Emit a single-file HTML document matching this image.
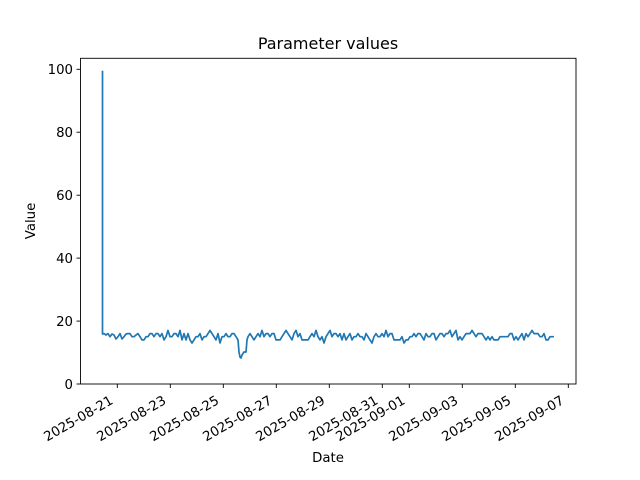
<!DOCTYPE html>
<html><head><meta charset="utf-8"><style>
html,body{margin:0;padding:0;background:#fff}
svg{display:block;font-family:"DejaVu Sans","Liberation Sans",sans-serif}
</style></head><body>
<svg width="640" height="480" viewBox="0 0 640 480">
<rect width="640" height="480" fill="#fff"/>
<text x="328" y="49" font-size="16" text-anchor="middle" fill="#000">Parameter values</text>
<polyline fill="none" stroke="#1f77b4" stroke-width="1.7" stroke-linejoin="round" points="
102.5,70.7 102.5,334 104,333.6 106,335 108,333.6 110,336.7 112,334 114,335 116,339 118,336.7 120,333.6 122,339 124,336.7 126,334 128,333.6 130,333.6 132,336.7 134,336.7 136,335 138,333.6 140,336.7 142,339.9 144,339.9 146,336.7 148,336.7 150,333.6 152,333.6 154,336.7 156,333.6 158,333.6 160,336.7 162,333.6 164,339.9 166,336.7 168,330.4 170,336.7 172,336.7 174,333.6 176,333.6 178,336.7 180,330.4 182,339.9 184,333.6 186,339.9 188,333.6 190,339.9 192,343 194,339.9 196,336.7 198,336.7 200,333.6 202,339.9 204,336.7 206,336.7 208,333.6 210,330.4 212,333.6 214,336.7 216,339.9 218,333.6 220,343 222,336.7 224,336.7 226,333.6 228,336.7 230,336.7 232,333.6 234,333.6 236,336.7 238,339.9 239,352 240,357 241,358 242,355 244,352 246,352 247,339.9 248,336.7 250,333.6 252,336.7 254,339.9 256,336.7 258,333.6 260,336.7 262,330.4 264,336.7 266,333.6 268,333.6 270,336.7 272,333.6 274,333.6 276,339.9 278,339.9 280,339.9 282,336.7 284,333.6 286,330.4 288,333.6 290,336.7 292,339.9 294,333.6 296,330.4 298,336.7 300,333.6 302,339.9 304,339.9 306,339.9 308,339.9 310,336.7 312,333.6 314,336.7 316,330.4 318,336.7 320,339.9 322,336.7 324,343 326,336.7 328,333.6 330,330.4 332,336.7 334,333.6 336,333.6 338,336.7 340,333.6 342,339.9 344,333.6 346,339.9 348,336.7 350,333.6 352,339.9 354,336.7 356,336.7 358,333.6 360,336.7 362,336.7 364,339.9 366,333.6 368,336.7 370,339.9 372,343 374,336.7 376,333.6 378,336.7 380,336.7 382,333.6 384,336.7 386,330.4 388,336.7 390,333.6 392,333.6 394,339.9 396,339.9 398,339.9 400,339.9 402,336.7 404,343 406,339.9 408,339.9 410,336.7 412,336.7 414,333.6 416,336.7 418,333.6 420,333.6 422,336.7 424,339.9 426,333.6 428,336.7 430,336.7 432,333.6 434,333.6 436,339.9 438,336.7 440,333.6 442,333.6 444,336.7 446,333.6 448,333.6 450,330.4 452,336.7 454,333.6 456,330.4 458,339.9 460,336.7 462,339.9 464,336.7 466,333.6 468,333.6 470,333.6 472,330.4 474,333.6 476,336.7 478,333.6 480,333.6 482,333.6 484,336.7 486,339.9 488,336.7 490,339.9 492,336.7 494,339.9 496,339.9 498,339.9 500,336.7 502,336.7 504,336.7 506,336.7 508,336.7 510,333.6 512,333.6 514,339.9 516,336.7 518,339.9 520,336.7 522,333.6 524,339.9 526,333.6 528,336.7 530,333.6 532,330.4 534,333.6 536,333.6 538,333.6 540,336.7 542,336.7 544,333.6 546,339.9 548,339.9 550,336.7 552,336.7 554,336.7"/>
<rect x="80.5" y="58.3" width="495.5" height="325.7" fill="none" stroke="#000" stroke-width="0.9"/>
<g stroke="#000" stroke-width="0.9">
<line x1="76.5" y1="384" x2="80.5" y2="384"/><line x1="76.5" y1="321.1" x2="80.5" y2="321.1"/><line x1="76.5" y1="258.1" x2="80.5" y2="258.1"/><line x1="76.5" y1="195.2" x2="80.5" y2="195.2"/><line x1="76.5" y1="132.2" x2="80.5" y2="132.2"/><line x1="76.5" y1="69.3" x2="80.5" y2="69.3"/>
<line x1="117.3" y1="384" x2="117.3" y2="388"/><line x1="170.3" y1="384" x2="170.3" y2="388"/><line x1="223.3" y1="384" x2="223.3" y2="388"/><line x1="276.3" y1="384" x2="276.3" y2="388"/><line x1="329.3" y1="384" x2="329.3" y2="388"/><line x1="382.3" y1="384" x2="382.3" y2="388"/><line x1="409.3" y1="384" x2="409.3" y2="388"/><line x1="462.3" y1="384" x2="462.3" y2="388"/><line x1="515.3" y1="384" x2="515.3" y2="388"/><line x1="568.3" y1="384" x2="568.3" y2="388"/>
</g>
<g font-size="13.3" text-anchor="end" fill="#000">
<text x="73" y="389">0</text><text x="73" y="326">20</text><text x="73" y="263">40</text><text x="73" y="200">60</text><text x="73" y="137">80</text><text x="73" y="74">100</text>
</g>
<g font-size="13.3" text-anchor="end" fill="#000">
<text transform="translate(114,403) rotate(-30)">2025-08-21</text>
<text transform="translate(167,403) rotate(-30)">2025-08-23</text>
<text transform="translate(220,403) rotate(-30)">2025-08-25</text>
<text transform="translate(273,403) rotate(-30)">2025-08-27</text>
<text transform="translate(326,403) rotate(-30)">2025-08-29</text>
<text transform="translate(379,403) rotate(-30)">2025-08-31</text>
<text transform="translate(406,403) rotate(-30)">2025-09-01</text>
<text transform="translate(459,403) rotate(-30)">2025-09-03</text>
<text transform="translate(512,403) rotate(-30)">2025-09-05</text>
<text transform="translate(565,403) rotate(-30)">2025-09-07</text>
</g>
<text x="328" y="462" font-size="13.3" text-anchor="middle">Date</text>
<text transform="translate(35,221) rotate(-90)" font-size="13.3" text-anchor="middle">Value</text>
</svg>
</body></html>
